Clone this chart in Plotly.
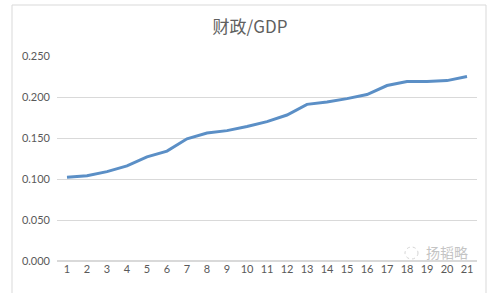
import plotly.graph_objects as go

categories = list(range(1, 22))
values = [0.102, 0.104, 0.109, 0.116, 0.127, 0.134, 0.149, 0.156, 0.159, 0.164,
          0.170, 0.178, 0.191, 0.194, 0.198, 0.203, 0.214, 0.219, 0.219, 0.220, 0.225]
y_ticks = [0, 0.05, 0.10, 0.15, 0.20, 0.25]
y_ticktext = ["0.000", "0.050", "0.100", "0.150", "0.200", "0.250"]

W, H = 491, 293
ml, mr, mt, mb = 57, 14, 56, 32
pw, ph = W - ml - mr, H - mt - mb

def px_x(x):
    return (x - ml) / pw

def px_y(y):
    return (H - mb - y) / ph

fig = go.Figure()
fig.add_trace(go.Scatter(
    x=categories, y=values, mode="lines",
    line=dict(color="#5b8fc6", width=3),
    hoverinfo="skip", showlegend=False,
))

fig.update_layout(
    width=W, height=H,
    margin=dict(l=ml, r=mr, t=mt, b=mb),
    paper_bgcolor="white", plot_bgcolor="white",
    title=dict(text="财政/GDP", x=250 / W, xanchor="center", xref="container",
               y=1 - 27 / H, yanchor="middle",
               font=dict(family="Noto Sans CJK SC", size=17, color="#606060")),
    xaxis=dict(range=[0.5, 21.5], tickmode="array", tickvals=categories,
               ticktext=[str(c) for c in categories],
               showgrid=False, zeroline=False, showline=False, ticks="",
               tickfont=dict(family="Lato, Open Sans", size=11, color="#595959"),
               fixedrange=True),
    yaxis=dict(range=[0, 0.25], tickmode="array", tickvals=y_ticks, ticktext=y_ticktext,
               showgrid=True, gridcolor="#d9d9d9", gridwidth=1,
               zeroline=True, zerolinecolor="#d9d9d9", showline=False, ticks="",
               ticklabelstandoff=6,
               tickfont=dict(family="Lato, Open Sans", size=11, color="#595959"),
               fixedrange=True),
    shapes=[
        dict(type="rect", xref="paper", yref="paper",
             x0=px_x(12), x1=px_x(486), y0=px_y(300), y1=px_y(5),
             line=dict(color="#d9d9d9", width=1), fillcolor="rgba(0,0,0,0)", layer="below"),
        dict(type="circle", xref="paper", yref="paper",
             x0=px_x(405), x1=px_x(418), y0=px_y(259), y1=px_y(247),
             line=dict(color="#d4d4d4", width=1, dash="dot"), fillcolor="rgba(0,0,0,0)"),
    ],
    annotations=[
        dict(text="扬韬略", xref="paper", yref="paper", x=px_x(425), y=px_y(252),
             xanchor="left", yanchor="middle", borderpad=0,
             showarrow=False, font=dict(family="Noto Sans CJK SC", size=14, color="#c4c4c4")),
    ],
)

fig.write_html("out.html")
